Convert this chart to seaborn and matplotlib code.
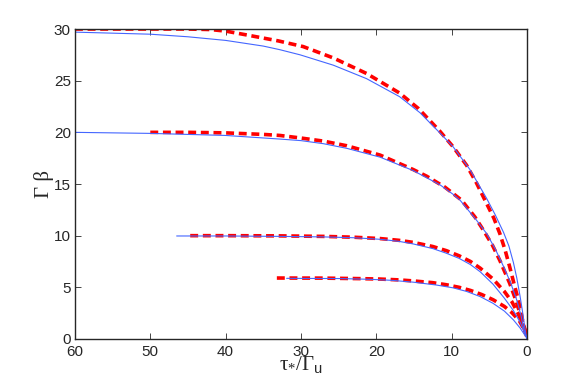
import numpy as np
import pandas as pd
import matplotlib
matplotlib.use("Agg")
import matplotlib.pyplot as plt
import seaborn as sns

sns.set_style("ticks")
plt.rcParams['font.family'] = ['Liberation Sans', 'DejaVu Sans']
plt.rcParams['mathtext.fontset'] = 'custom'
plt.rcParams['mathtext.rm'] = 'Liberation Serif'
plt.rcParams['mathtext.it'] = 'Liberation Serif:italic'
plt.rcParams['mathtext.sf'] = 'Liberation Sans'

# values (x = tau/Gamma_u, y = Gamma beta)
# thin blue curves
b30_x = [60, 55, 50, 45, 40, 35, 32.8, 30.1, 25.7, 21.3, 16.9, 14.2, 11.5, 9.8, 7.57, 5.35,
         4.2, 3.1, 2.4, 1.8, 1.35, 0.93, 0.6, 0.27, 0.03]
b30_y = [29.7, 29.6, 29.5, 29.25, 28.9, 28.35, 28.0, 27.5, 26.5, 25.2, 23.45, 21.9, 19.9, 18.6, 16.4, 13.6,
         12.0, 10.3, 9.0, 7.4, 5.9, 4.2, 2.7, 1.0, 0.0]
b20_x = [60, 50, 40, 32.8, 30, 27, 23.9, 19.5, 15.1, 11.5, 9.8, 8.9, 6.7, 5.35, 4.2, 3.1, 2.2, 1.37, 0.8, 0.4, 0.02]
b20_y = [20.0, 19.9, 19.7, 19.35, 19.2, 18.9, 18.45, 17.6, 16.3, 14.9, 14.0, 13.45, 11.5, 10.2, 8.7, 7.0, 5.5, 3.8, 2.3, 0.87, 0.1]
b10_x = [46.5, 40, 32.8, 27, 23, 19.5, 17, 15.1, 12.5, 10.7, 9, 7.5, 6.2, 4.5, 3.0, 1.8, 0.9, 0.3, 0.02]
b10_y = [9.97, 9.97, 9.93, 9.88, 9.8, 9.65, 9.45, 9.2, 8.75, 8.3, 7.8, 7.2, 6.5, 5.3, 3.95, 2.75, 1.6, 0.6, 0.1]
b6_x = [31.9, 25, 21, 18, 15.1, 12, 9.8, 8.0, 6.2, 4.5, 3.0, 1.8, 0.9, 0.4, 0.02]
b6_y = [5.87, 5.85, 5.78, 5.68, 5.5, 5.22, 4.95, 4.6, 4.1, 3.45, 2.7, 1.85, 1.05, 0.5, 0.1]

# thick red dashed curves
r30_x = [60, 50, 45, 42, 40, 37, 33, 29.7, 25.7, 21.3, 16.9, 14.4, 11.55, 9.8, 8.0, 6.7, 5.35,
         4.4, 3.6, 2.9, 2.3, 1.7, 1.15, 0.8, 0.5, 0.05]
r30_y = [30.0, 30.0, 30.0, 29.95, 29.8, 29.4, 28.85, 28.3, 27.2, 25.7, 23.8, 22.3, 20.1, 18.6, 16.8, 15.1, 13.1,
         11.7, 10.2, 8.6, 7.0, 5.3, 3.8, 2.6, 1.5, 0.3]
r20_x = [50, 45, 40, 35, 32.8, 30, 27, 23.9, 19.5, 15.1, 13.3, 10.9, 8.7, 6.9, 5.8, 4.6, 3.6, 2.3, 1.6, 0.93, 0.27, 0.05]
r20_y = [20.0, 20.0, 19.95, 19.8, 19.7, 19.45, 19.15, 18.7, 17.8, 16.4, 15.75, 14.7, 13.45, 11.8, 10.55, 9.1, 7.6, 5.4, 4.0, 2.5, 0.87, 0.3]
r10_x = [44.7, 40, 32.8, 27, 23, 19.5, 17, 15.1, 12.5, 10.7, 9, 7.5, 6.2, 4.5, 3.0, 2.0, 1.2, 0.5, 0.05]
r10_y = [10.0, 10.0, 9.98, 9.93, 9.85, 9.72, 9.55, 9.35, 8.95, 8.55, 8.05, 7.5, 6.85, 5.8, 4.6, 3.6, 2.5, 1.3, 0.3]
r6_x = [33.2, 27, 22, 19.5, 17, 15.1, 12.5, 10.7, 9, 7.5, 6, 4.5, 3.0, 2.0, 1.0, 0.4, 0.05]
r6_y = [5.9, 5.89, 5.84, 5.8, 5.72, 5.62, 5.45, 5.25, 5.0, 4.7, 4.3, 3.8, 3.15, 2.55, 1.75, 0.95, 0.3]

red_curves = [(r30_x, r30_y), (r20_x, r20_y), (r10_x, r10_y), (r6_x, r6_y)]
blue_curves = [(b30_x, b30_y), (b20_x, b20_y), (b10_x, b10_y), (b6_x, b6_y)]

fig = plt.figure(figsize=(5.81, 3.82), dpi=100)
ax = fig.add_axes([0.129, 0.1126, 0.778, 0.8114])

for xs, ys in red_curves:
    sns.lineplot(x=xs, y=ys, ax=ax, sort=False, estimator=None, color='#ff0000',
                 linewidth=2.6)
for line in ax.get_lines():
    line.set_dashes((2.2, 1.3))
for xs, ys in blue_curves:
    sns.lineplot(x=xs, y=ys, ax=ax, sort=False, estimator=None, color='#4466ff',
                 linewidth=0.8)

ax.set_xlim(60, 0)
ax.set_ylim(0, 30)
ax.set_xticks([60, 50, 40, 30, 20, 10, 0])
ax.set_yticks([0, 5, 10, 15, 20, 25, 30])
ax.tick_params(direction='in', length=4, width=0.6, top=True, right=True,
               labelsize=11, pad=3)
ax.tick_params(axis='x', pad=4)
for s in ax.spines.values():
    s.set_visible(True)
    s.set_linewidth(1.0)

ax.set_xlabel(r'$\mathrm{\tau}_{*}/\mathrm{\Gamma}_{\mathsf{u}}$', fontsize=15, labelpad=-3)
ax.set_ylabel('Γ β', fontsize=15, family=['Liberation Serif', 'DejaVu Serif'], labelpad=0)

fig.savefig('out.png', dpi=100)
